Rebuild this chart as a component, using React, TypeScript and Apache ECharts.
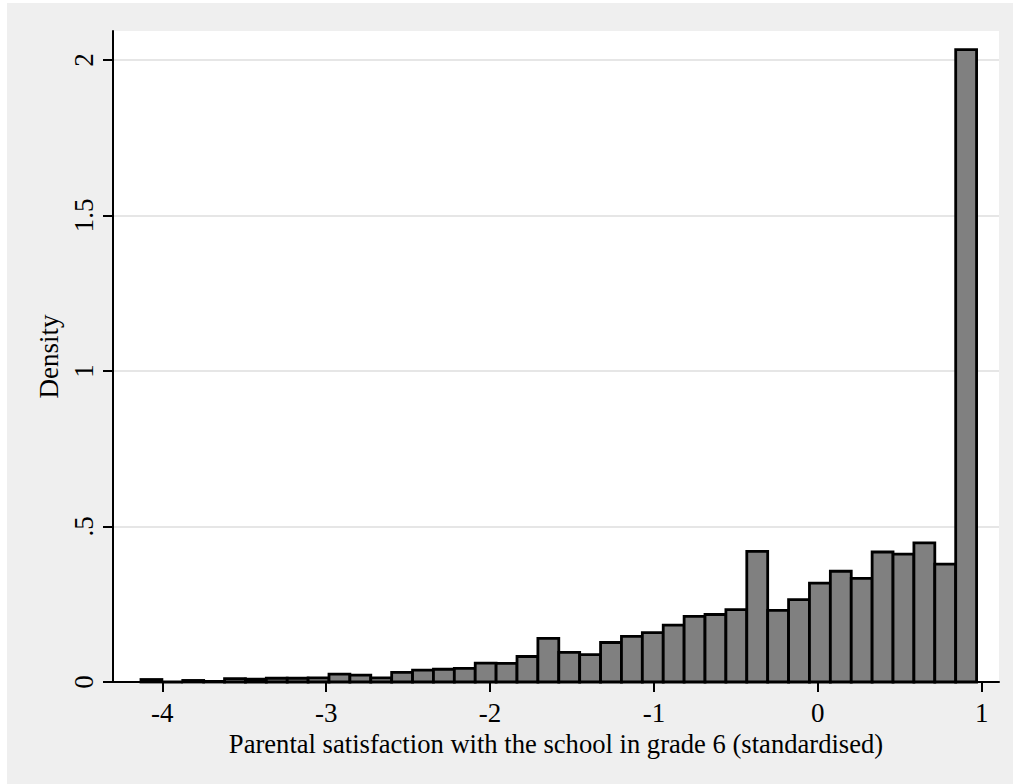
import React, { useEffect, useRef } from "react";
import * as echarts from "echarts";

// Histogram definition (Stata-style): 40 bins
const binStart = -4.13;
const binWidth = 0.12747;
const densities = [
  0.008, 0, 0.005, 0.002, 0.011, 0.009, 0.012, 0.012, 0.013, 0.025,
  0.022, 0.013, 0.031, 0.038, 0.041, 0.044, 0.061, 0.06, 0.082, 0.14,
  0.095, 0.088, 0.127, 0.147, 0.159, 0.183, 0.211, 0.217, 0.233, 0.42,
  0.23, 0.265, 0.318, 0.356, 0.333, 0.418, 0.411, 0.447, 0.379, 2.033,
];
const xTicks = [-4, -3, -2, -1, 0, 1];
const yTicks = [0, 0.5, 1, 1.5, 2];
const xTitle = "Parental satisfaction with the school in grade 6 (standardised)";
const yTitle = "Density";

const FONT = "Liberation Serif";

export default function App() {
  const ref = useRef<HTMLDivElement>(null);
  useEffect(() => {
    if (!ref.current) return;
    const chart = echarts.init(ref.current, undefined, { renderer: "svg" });
    const data = densities.map((d, i) => [
      binStart + i * binWidth,
      binStart + (i + 1) * binWidth,
      d,
    ]);
    chart.setOption({
      animation: false,
      backgroundColor: "#efefef",
      grid: {
        left: 106,
        top: 28,
        right: 14,
        bottom: 102,
        show: true,
        backgroundColor: "#ffffff",
        borderWidth: 0,
      },
      xAxis: {
        type: "value",
        min: -4.3008,
        max: 1.1056,
        name: xTitle,
        nameLocation: "middle",
        nameGap: 48,
        nameTextStyle: { fontFamily: FONT, fontSize: 26.6, color: "#000" },
        axisLine: { show: true, onZero: false, lineStyle: { color: "#000", width: 2 } },
        axisTick: {
          show: true,
          length: 10,
          customValues: xTicks,
          lineStyle: { color: "#000", width: 2 },
        },
        axisLabel: {
          customValues: xTicks,
          margin: 17,
          fontFamily: FONT,
          fontSize: 27,
          color: "#000",
          formatter: (v: number) => String(v),
        },
        splitLine: { show: false },
      },
      yAxis: {
        type: "value",
        min: 0,
        max: 2.093,
        name: yTitle,
        nameLocation: "middle",
        nameGap: 44,
        nameTextStyle: { fontFamily: FONT, fontSize: 27, color: "#000" },
        axisLine: { show: true, onZero: false, lineStyle: { color: "#000", width: 2 } },
        axisTick: {
          show: true,
          length: 10,
          customValues: yTicks,
          lineStyle: { color: "#000", width: 2 },
        },
        axisLabel: {
          customValues: yTicks,
          rotate: 90,
          margin: 16,
          fontFamily: FONT,
          fontSize: 27,
          color: "#000",
          formatter: (v: number) => (v === 0 ? "0" : String(v).replace(/^0\./, ".")),
        },
        splitLine: { show: true, lineStyle: { color: "#e6e6e6", width: 2 } },
      },
      series: [
        {
          type: "custom",
          data,
          encode: { x: [0, 1], y: 2 },
          renderItem: (params: any, api: any) => {
            const x0 = api.value(0);
            const x1 = api.value(1);
            const y = api.value(2);
            const p0 = api.coord([x0, y]);
            const p1 = api.coord([x1, 0]);
            return {
              type: "rect",
              shape: { x: p0[0], y: p0[1], width: p1[0] - p0[0], height: p1[1] - p0[1] },
              style: { fill: "#808080", stroke: "#000", lineWidth: 2.8 },
            };
          },
        },
      ],
    });
    return () => chart.dispose();
  }, []);
  return (
    <div style={{ position: "fixed", left: 0, top: 0, width: 1013, height: 784, background: "#fff" }}>
      <div ref={ref} style={{ position: "absolute", left: 7, top: 3, width: 1006, height: 781 }} />
    </div>
  );
}
